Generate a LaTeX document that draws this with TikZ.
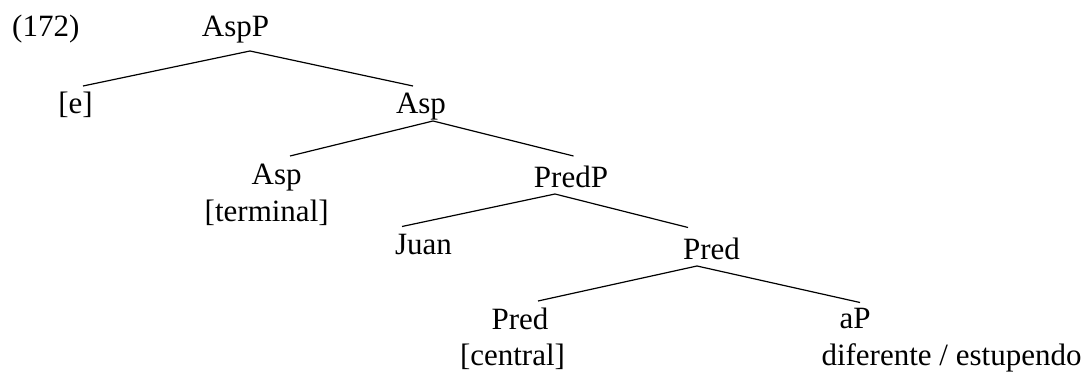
\documentclass[tikz,border=0pt]{standalone}
\usepackage{fontspec}
\setmainfont{Liberation Serif}
\begin{document}
\begin{tikzpicture}[x=1pt,y=-1pt,
  lbl/.style={anchor=base, inner sep=0pt, font=\fontsize{31}{37}\selectfont},
  edge/.style={line width=1.2pt}]
\useasboundingbox (0,0) rectangle (1088,374);
% labels
\node[lbl] (ex) at (45.8,37) {(172)};
\node[lbl] (AspP) at (235.5,37) {AspP};
\node[lbl] (e) at (75.5,114) {[e]};
\node[lbl] (Asp1) at (421,114) {Asp};
\node[lbl] (Asp2) at (276.7,185) {Asp};
\node[lbl] (term) at (266.7,222) {[terminal]};
\node[lbl] (PredP) at (571,188) {PredP};
\node[lbl] (Juan) at (423.5,255) {Juan};
\node[lbl] (Pred1) at (711.5,260) {Pred};
\node[lbl] (Pred2) at (520,330) {Pred};
\node[lbl] (central) at (512.5,365) {[central]};
\node[lbl] (aP) at (855,329) {aP};
\node[lbl] (dif) at (951.5,365) {diferente / estupendo};
% branch points
\coordinate (AspP-b) at (250,51);
\coordinate (e-t) at (83,86);
\coordinate (Asp1-t) at (413,86);
\coordinate (Asp1-b) at (433,121);
\coordinate (Asp2-t) at (290,156);
\coordinate (PredP-t) at (573.5,156);
\coordinate (PredP-b) at (555,194);
\coordinate (Juan-t) at (402,226.5);
\coordinate (Pred1-t) at (688,227.5);
\coordinate (Pred1-b) at (697,266);
\coordinate (Pred2-t) at (538,301);
\coordinate (aP-t) at (860,302.5);
% edges
\draw[edge] (e-t) -- (AspP-b) -- (Asp1-t);
\draw[edge] (Asp2-t) -- (Asp1-b) -- (PredP-t);
\draw[edge] (Juan-t) -- (PredP-b) -- (Pred1-t);
\draw[edge] (Pred2-t) -- (Pred1-b) -- (aP-t);
\end{tikzpicture}
\end{document}
